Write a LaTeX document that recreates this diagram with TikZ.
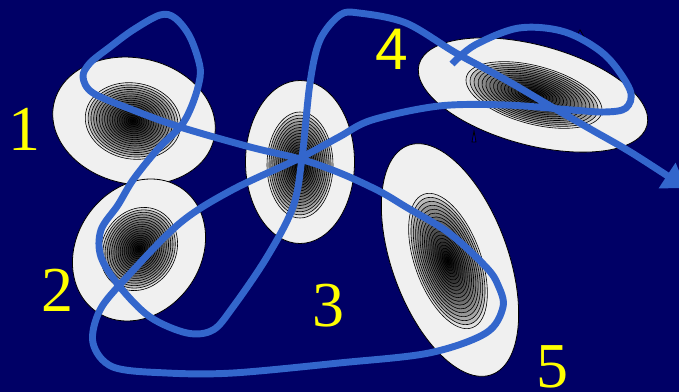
\documentclass[tikz,border=0pt]{standalone}
\usepackage{fontspec}
\setmainfont{Liberation Serif}
\newfontfamily\labsans{Liberation Sans}
\usetikzlibrary{arrows.meta}
\definecolor{bgblue}{RGB}{0,0,102}
\definecolor{pathblue}{RGB}{51,102,204}
\definecolor{blobfill}{RGB}{240,240,240}
\definecolor{labyellow}{RGB}{255,255,0}
\newcommand\contourset[5]{%
  \foreach \i in {0,...,19}{%
    \pgfmathsetmacro\s{(1-\i/20)^1.2}%
    \pgfmathsetmacro\c{12+88*(\i/19)^0.6}%
    \draw[line width=0.45pt, fill=black!\c, rotate around={#5:(#1,#2)}]
      (#1,#2) ellipse [x radius={#3*\s}, y radius={#4*\s}];
  }}
\begin{document}
\begin{tikzpicture}[x=0.75pt,y=-0.75pt,
  blob/.style={fill=blobfill, draw=black, line width=0.6pt},
  lab/.style={text=labyellow, inner sep=0pt, font=\fontsize{48}{50}\selectfont},
  traj/.style={draw=pathblue, line width=5.2pt, line join=round},
  speck/.style={fill=blue!60!black, draw=black, line width=0.6pt}]
\useasboundingbox (0,0) rectangle (679,392);
\clip (0,0) rectangle (679,392);
\fill[bgblue] (0,0) rectangle (679,392);

% blobs
\draw[blob, rotate around={-12:(134,121)}] (134,121) ellipse [x radius=82, y radius=63];
\contourset{133}{121}{48}{38}{-10}
\draw[blob, rotate around={55:(139,250)}] (139,250) ellipse [x radius=75, y radius=62];
\contourset{139}{249}{43}{37}{60}
\draw[blob] (300,162) ellipse [x radius=54.5, y radius=81.5];
\contourset{300}{165}{33}{53}{0}
\draw[blob, rotate around={-15:(533,95)}] (533,95) ellipse [x radius=118, y radius=50];
\contourset{534}{95}{70}{29}{-15}
\draw[blob, rotate around={20:(450,260)}] (450,260) ellipse [x radius=58, y radius=122];
\contourset{448}{261}{33}{71}{20}

% small specks
\draw[speck] (576,37) -- (584,37) -- (580,30) -- cycle;
\draw[speck] (472,142) -- (476,142) -- (474,131) -- cycle;

% trajectory
\draw[traj, -{Triangle[length=17pt, width=22pt]}] plot[smooth, tension=0.55] coordinates {
  (452,64) (475,45) (519,28) (565,32) (605,55) (630,90) (626,108) (605,112)
  (572,110) (506,105) (439,106) (372,120) (339,137) (300,158) (232,190)
  (180,223) (127,277) (100,310) (93,343) (113,367) (167,373) (233,373)
  (339,363) (429,353) (486,333) (503,307) (498,285) (486,267) (449,233)
  (406,207) (379,191) (340,173) (300,159) (250,147) (180,127) (133,110)
  (93,93) (83,77) (90,63) (110,47) (133,30) (160,15) (175,18) (190,37)
  (200,67) (198,87) (190,110) (180,127) (157,150) (133,180) (118,205)
  (101,230) (101,257) (120,287) (150,317) (187,333) (213,330) (233,307)
  (267,257) (293,207) (302,158) (310,83) (320,40) (340,15) (359,13)
  (406,23) (456,53) (506,80) (552,107) (592,130) (632,153) (686,188)};

% labels
\node[lab] (l1) at (24,129) {1};
\node[lab] (l2) at (57,290) {2};
\node[lab] (l3) at (328,306) {3};
\node[lab, font=\labsans\fontsize{44}{46}\selectfont] (l4) at (392,49) {4};
\node[lab] (l5) at (552,367) {5};
\end{tikzpicture}
\end{document}
